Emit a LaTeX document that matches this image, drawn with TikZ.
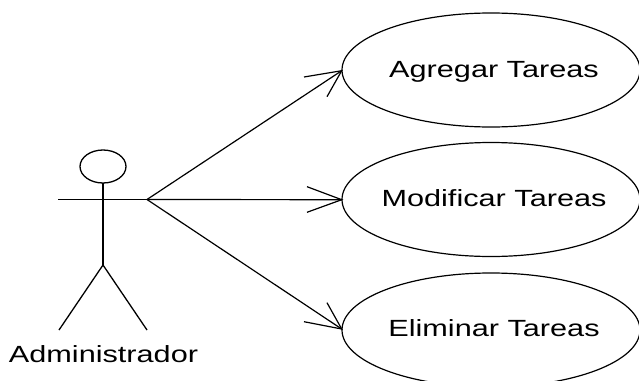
\documentclass[tikz,border=0pt]{standalone}
\usepackage{graphicx}
\usepackage{fontspec}
\setmainfont{Liberation Sans}
\usetikzlibrary{shapes.geometric}
\newcommand{\widetxt}[1]{\scalebox{1.31}[1]{\fontsize{23.4pt}{26pt}\selectfont #1}}
\newcommand{\uctxt}[2]{\makebox[0pt]{\hspace*{6pt}\raisebox{-#1}[0pt][0pt]{\widetxt{#2}}}}
\tikzset{
  usecase/.style={draw=black,ellipse,line width=1.2pt,minimum width=298pt,minimum height=114pt,inner sep=0pt,outer sep=0pt},
  stick/.style={draw=black,line width=1.3pt},
  body/.style={draw=black,line width=1.6pt},
  assoc/.style={draw=black,line width=1.2pt},
  barb/.style={draw=black,line width=1.2pt},
}
\begin{document}
\begin{tikzpicture}[x=1pt,y=-1pt]
\useasboundingbox[fill=white] (0,0) rectangle (639,380);
\begin{scope}
\clip (0,0) rectangle (639,380);
\node[usecase] (a) at (491,70) {\uctxt{7.4pt}{Agregar Tareas}};
\node[usecase] (m) at (491,199.5) {\uctxt{7.3pt}{Modificar Tareas}};
\node[usecase] (e) at (491,330) {\uctxt{6pt}{Eliminar Tareas}};
\end{scope}
\node[stick,ellipse,minimum width=46pt,minimum height=33pt,inner sep=0pt,outer sep=0pt] (head) at (103,166.5) {};
\coordinate (hip) at (103,265);
\coordinate (armL) at (58,199.5);
\coordinate (armR) at (147,199.5);
\coordinate (footL) at (59,330);
\coordinate (footR) at (147,330);
\draw[body] (head.south) -- (hip);
\draw[assoc] (armL) -- (armR);
\draw[stick] (footL) -- (hip) -- (footR);
\node[anchor=base,inner sep=0pt] (lbl) at (103.5,362) {\widetxt{Administrador}};
% association lines and open arrowheads
\coordinate (atip) at (341.7,70.7);
\coordinate (mtip) at (341.7,199.7);
\coordinate (etip) at (341.7,329);
\coordinate (a1) at (304,77);
\coordinate (a2) at (327,96.7);
\coordinate (m1) at (307,186.7);
\coordinate (m2) at (307,212.3);
\coordinate (e1) at (304,321.7);
\coordinate (e2) at (327,302.7);
\draw[assoc] (armR) -- (atip);
\draw[assoc] (armR) -- (mtip);
\draw[assoc] (armR) -- (etip);
\draw[barb] (a1) -- (atip) -- (a2);
\draw[barb] (m1) -- (mtip) -- (m2);
\draw[barb] (e1) -- (etip) -- (e2);
\end{tikzpicture}
\end{document}
